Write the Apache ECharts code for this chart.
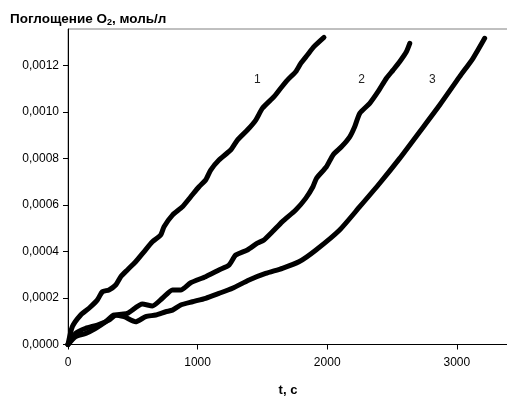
<!DOCTYPE html>
<html>
<head>
<meta charset="utf-8">
<script src="https://cdn.jsdelivr.net/npm/echarts@6/dist/echarts.min.js"></script>
<style>html,body{margin:0;padding:0;background:#fff;}#c{width:507px;height:396px;}</style>
</head>
<body>
<div id="c"></div>
<script>
// Curve 1: time (s), O2 uptake (×1e-4 mol/l)
const t1 = [0, 34, 98, 162, 227, 265, 316, 368, 407, 458, 522, 586, 651, 715, 741, 806, 883, 947, 1011, 1062, 1101, 1165, 1255, 1307, 1384, 1449, 1500, 1590, 1641, 1693, 1757, 1796, 1847, 1898, 1975];
const v1 = [0, 0.77, 1.27, 1.56, 1.92, 2.27, 2.35, 2.56, 2.92, 3.21, 3.56, 3.99, 4.42, 4.71, 5.07, 5.57, 5.93, 6.36, 6.79, 7.08, 7.51, 7.94, 8.37, 8.80, 9.23, 9.66, 10.17, 10.67, 11.03, 11.38, 11.74, 12.10, 12.46, 12.82, 13.22];
// Curve 2
const t2 = [0, 59, 137, 227, 316, 368, 458, 574, 651, 728, 806, 870, 947, 1062, 1165, 1242, 1294, 1384, 1461, 1512, 1577, 1654, 1757, 1834, 1890, 1917, 1994, 2045, 2110, 2174, 2212, 2251, 2328, 2392, 2457, 2508, 2559, 2611, 2637];
const v2 = [0, 0.48, 0.70, 0.84, 1.05, 1.27, 1.34, 1.74, 1.66, 1.99, 2.35, 2.35, 2.66, 2.92, 3.21, 3.42, 3.85, 4.07, 4.36, 4.50, 4.85, 5.29, 5.79, 6.29, 6.79, 7.15, 7.65, 8.16, 8.51, 8.94, 9.37, 9.95, 10.38, 10.88, 11.46, 11.81, 12.17, 12.60, 12.96];
// Curve 3
const t3 = [0, 59, 137, 214, 291, 355, 432, 522, 600, 677, 754, 806, 870, 960, 1062, 1165, 1269, 1397, 1525, 1654, 1782, 1911, 2096, 2251, 2405, 2559, 2714, 2868, 3022, 3125, 3215];
const v3 = [0, 0.34, 0.48, 0.70, 0.98, 1.27, 1.20, 0.98, 1.20, 1.27, 1.41, 1.48, 1.70, 1.84, 1.99, 2.20, 2.42, 2.78, 3.06, 3.28, 3.56, 4.06, 4.93, 5.93, 6.94, 8.01, 9.16, 10.31, 11.53, 12.32, 13.18];
// Curve labels: name, time, value (×1e-4)
const curveNames = ['1', '2', '3'];
const labelT = [1461, 2266, 2812];
const labelV = [11.38, 11.38, 11.38];
// Tick labels
const xTicks = [0, 1000, 2000, 3000];
const yTicks = [0, 0.0002, 0.0004, 0.0006, 0.0008, 0.0010, 0.0012];

const FONT = '"Liberation Sans", Arial, sans-serif';
function pairs(t, v) { return t.map((x, i) => [x, v[i] * 1e-4]); }
const allT = [t1, t2, t3], allV = [v1, v2, v3];

const chart = echarts.init(document.getElementById('c'), null, {renderer: 'canvas'});
chart.setOption({
  animation: false,
  backgroundColor: '#fff',
  title: {
    text: '{a|Поглощение O}{s|2}{a|, моль/л}',
    left: 5, top: 6,
    textStyle: {
      rich: {
        a: {fontFamily: FONT, fontWeight: 'bold', fontSize: 13.5, color: '#000'},
        s: {fontFamily: FONT, fontWeight: 'bold', fontSize: 9, color: '#000', verticalAlign: 'bottom', padding: [7, 0, 0, 0]}
      }
    }
  },
  grid: {left: 68, right: -1, top: 29, bottom: 51.5, show: true, borderColor: '#808080', borderWidth: 1,
    backgroundColor: 'transparent', containLabel: false, outerBoundsMode: 'none'},
  xAxis: {
    type: 'value', min: 0, max: 3395, interval: 1000,
    name: 't, c', nameLocation: 'middle', nameGap: 39,
    nameTextStyle: {fontFamily: FONT, fontWeight: 'bold', fontSize: 13, color: '#000'},
    axisLine: {show: true, onZero: false, lineStyle: {color: '#000', width: 1}},
    axisTick: {show: true, length: 5, inside: false, customValues: xTicks, lineStyle: {color: '#000'}},
    axisLabel: {fontFamily: FONT, fontSize: 12, color: '#000', margin: 12, customValues: xTicks,
      formatter: v => String(v)},
    splitLine: {show: false}
  },
  yAxis: {
    type: 'value', min: 0, max: 0.001358, interval: 0.0002,
    axisLine: {show: true, onZero: false, lineStyle: {color: '#000', width: 1}},
    axisTick: {show: true, length: 5, inside: false, customValues: yTicks, lineStyle: {color: '#000'}},
    axisLabel: {fontFamily: FONT, fontSize: 12, color: '#000', margin: 9, customValues: yTicks,
      formatter: v => v.toFixed(4).replace('.', ',')},
    splitLine: {show: false}
  },
  series: curveNames.map((n, i) => ({
    type: 'line',
    data: pairs(allT[i], allV[i]),
    showSymbol: false,
    smooth: 0.2,
    clip: false,
    lineStyle: {color: '#000', width: 5, cap: 'round', join: 'round'},
    markPoint: {
      symbol: 'circle', symbolSize: 0,
      data: [{coord: [labelT[i], labelV[i] * 1e-4], value: n}],
      label: {show: true, position: 'inside', formatter: n, fontFamily: FONT, fontSize: 12, color: '#222'}
    }
  }))
});
</script>
</body>
</html>
